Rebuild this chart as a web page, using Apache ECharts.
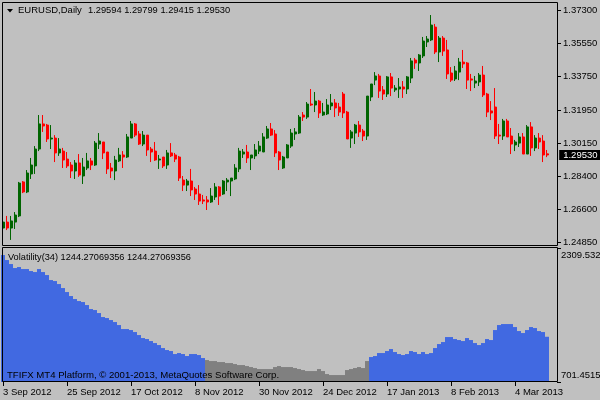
<!DOCTYPE html>
<html>
<head>
<meta charset="utf-8">
<title>EURUSD,Daily</title>
<style>
  html, body { margin: 0; padding: 0; background: #c0c0c0; }
  #chart { width: 600px; height: 400px; }
</style>
<script src="https://cdn.jsdelivr.net/npm/echarts@6/dist/echarts.min.js"></script>
</head>
<body>
<div id="chart"></div>
<script>
// price pane
var opens = [
  1.2560, 1.2592, 1.2560, 1.2592, 1.2625, 1.2808, 1.2754, 1.2851, 1.2894, 1.2985,
  1.3120, 1.3114, 1.3039, 1.3044, 1.2964, 1.2974, 1.2931, 1.2899, 1.2867, 1.2910,
  1.2840, 1.2883, 1.2921, 1.2899, 1.3012, 1.3023, 1.2969, 1.2883, 1.2867, 1.2921,
  1.2953, 1.2942, 1.3044, 1.3120, 1.3066, 1.3012, 1.3060, 1.2985, 1.2974, 1.2926,
  1.2942, 1.2899, 1.2964, 1.2953, 1.2942, 1.2818, 1.2791, 1.2813, 1.2770, 1.2743,
  1.2711, 1.2711, 1.2700, 1.2727, 1.2781, 1.2743, 1.2808, 1.2813, 1.2824, 1.2878,
  1.2958, 1.2969, 1.2937, 1.2948, 1.2974, 1.2969, 1.3044, 1.3093, 1.3066, 1.2969,
  1.2883, 1.2937, 1.3001, 1.3066, 1.3071, 1.3168, 1.3157, 1.3227, 1.3222, 1.3243,
  1.3168, 1.3174, 1.3217, 1.3233, 1.3211, 1.3281, 1.3184, 1.3044, 1.3071, 1.3114,
  1.3082, 1.3055, 1.3265, 1.3356, 1.3378, 1.3303, 1.3281, 1.3373, 1.3303, 1.3308,
  1.3319, 1.3308, 1.3367, 1.3464, 1.3448, 1.3486, 1.3561, 1.3572, 1.3641, 1.3507,
  1.3582, 1.3518, 1.3394, 1.3362, 1.3399, 1.3453, 1.3448, 1.3362, 1.3340, 1.3346,
  1.3383, 1.3281, 1.3190, 1.3211, 1.3060, 1.3055, 1.3136, 1.3055, 1.3007, 1.3017,
  1.3050, 1.2958, 1.3104, 1.2991, 1.3044, 1.3028, 1.2959
];
var closes = [
  1.2592, 1.2560, 1.2598, 1.2630, 1.2802, 1.2754, 1.2856, 1.2899, 1.2985, 1.3120,
  1.3109, 1.3039, 1.3044, 1.2964, 1.2985, 1.2926, 1.2894, 1.2867, 1.2910, 1.2845,
  1.2888, 1.2921, 1.2899, 1.3017, 1.3028, 1.2964, 1.2878, 1.2867, 1.2926, 1.2953,
  1.2942, 1.3050, 1.3120, 1.3060, 1.3012, 1.3060, 1.2980, 1.2969, 1.2926, 1.2931,
  1.2894, 1.2964, 1.2948, 1.2931, 1.2829, 1.2791, 1.2813, 1.2765, 1.2743, 1.2705,
  1.2705, 1.2700, 1.2732, 1.2781, 1.2732, 1.2813, 1.2818, 1.2829, 1.2883, 1.2974,
  1.2969, 1.2937, 1.2953, 1.2980, 1.3001, 1.3050, 1.3093, 1.3060, 1.2964, 1.2926,
  1.2942, 1.3007, 1.3071, 1.3077, 1.3157, 1.3157, 1.3227, 1.3222, 1.3243, 1.3179,
  1.3184, 1.3222, 1.3233, 1.3206, 1.3184, 1.3179, 1.3039, 1.3077, 1.3114, 1.3077,
  1.3055, 1.3270, 1.3335, 1.3378, 1.3297, 1.3281, 1.3373, 1.3313, 1.3313, 1.3319,
  1.3308, 1.3373, 1.3459, 1.3448, 1.3491, 1.3566, 1.3577, 1.3652, 1.3507, 1.3582,
  1.3512, 1.3389, 1.3356, 1.3405, 1.3453, 1.3443, 1.3356, 1.3356, 1.3351, 1.3383,
  1.3276, 1.3184, 1.3179, 1.3055, 1.3055, 1.3136, 1.3050, 1.3012, 1.3023, 1.3050,
  1.2958, 1.3104, 1.2991, 1.3044, 1.3023, 1.2953, 1.2953
];
var lows = [
  1.2555, 1.2549, 1.2496, 1.2555, 1.2619, 1.2748, 1.2748, 1.2824, 1.2851, 1.2974,
  1.3077, 1.3023, 1.2985, 1.2915, 1.2948, 1.2883, 1.2883, 1.2829, 1.2824, 1.2835,
  1.2797, 1.2872, 1.2872, 1.2894, 1.2985, 1.2931, 1.2851, 1.2829, 1.2818, 1.2915,
  1.2883, 1.2937, 1.3044, 1.3050, 1.3007, 1.3001, 1.2948, 1.2915, 1.2921, 1.2878,
  1.2883, 1.2878, 1.2942, 1.2915, 1.2813, 1.2759, 1.2759, 1.2732, 1.2711, 1.2684,
  1.2689, 1.2657, 1.2695, 1.2711, 1.2684, 1.2738, 1.2759, 1.2732, 1.2818, 1.2861,
  1.2937, 1.2910, 1.2872, 1.2931, 1.2958, 1.2969, 1.3039, 1.3055, 1.2942, 1.2872,
  1.2878, 1.2937, 1.2991, 1.3034, 1.3066, 1.3136, 1.3147, 1.3217, 1.3184, 1.3152,
  1.3163, 1.3168, 1.3195, 1.3157, 1.3163, 1.3152, 1.3039, 1.2991, 1.3012, 1.3050,
  1.3028, 1.3034, 1.3243, 1.3329, 1.3260, 1.3249, 1.3265, 1.3270, 1.3292, 1.3260,
  1.3260, 1.3281, 1.3340, 1.3416, 1.3405, 1.3475, 1.3534, 1.3566, 1.3496, 1.3453,
  1.3486, 1.3362, 1.3346, 1.3351, 1.3356, 1.3421, 1.3308, 1.3297, 1.3313, 1.3324,
  1.3265, 1.3157, 1.3141, 1.3039, 1.3012, 1.3034, 1.3050, 1.2958, 1.2974, 1.2996,
  1.2958, 1.2958, 1.2948, 1.2974, 1.2985, 1.2915, 1.29415
];
var highs = [
  1.2609, 1.2625, 1.2625, 1.2646, 1.2808, 1.2813, 1.2872, 1.2937, 1.3001, 1.3168,
  1.3168, 1.3120, 1.3114, 1.3060, 1.3044, 1.2991, 1.2969, 1.2915, 1.2926, 1.2958,
  1.2937, 1.2964, 1.2937, 1.3028, 1.3071, 1.3023, 1.2969, 1.2910, 1.2948, 1.2991,
  1.2974, 1.3066, 1.3136, 1.3125, 1.3082, 1.3082, 1.3060, 1.2996, 1.3023, 1.2953,
  1.2942, 1.2980, 1.3017, 1.2964, 1.2948, 1.2840, 1.2824, 1.2878, 1.2781, 1.2791,
  1.2738, 1.2732, 1.2775, 1.2802, 1.2786, 1.2818, 1.2829, 1.2829, 1.2904, 1.2991,
  1.2985, 1.3007, 1.2953, 1.3012, 1.3028, 1.3071, 1.3109, 1.3125, 1.3087, 1.2974,
  1.2948, 1.3012, 1.3093, 1.3098, 1.3168, 1.3184, 1.3238, 1.3308, 1.3292, 1.3249,
  1.3233, 1.3254, 1.3281, 1.3254, 1.3233, 1.3292, 1.3190, 1.3087, 1.3120, 1.3136,
  1.3093, 1.3270, 1.3335, 1.3399, 1.3389, 1.3324, 1.3378, 1.3394, 1.3329, 1.3367,
  1.3351, 1.3378, 1.3475, 1.3475, 1.3496, 1.3588, 1.3593, 1.3706, 1.3658, 1.3593,
  1.3593, 1.3572, 1.3426, 1.3432, 1.3475, 1.3518, 1.3453, 1.3389, 1.3378, 1.3394,
  1.3432, 1.3287, 1.3243, 1.3313, 1.3120, 1.3147, 1.3147, 1.3098, 1.3034, 1.3071,
  1.3071, 1.3114, 1.3130, 1.3060, 1.3071, 1.3060, 1.29799
];
// volatility pane, grey bars run from flatFrom to flatTo
var volatility = [
  2225, 2165, 2117, 2069, 2081, 2057, 2057, 2033, 2021, 2057,
  2021, 1985, 1925, 1913, 1877, 1829, 1781, 1733, 1697, 1673,
  1661, 1625, 1577, 1565, 1529, 1481, 1469, 1445, 1421, 1385,
  1337, 1337, 1325, 1301, 1265, 1229, 1217, 1193, 1169, 1145,
  1109, 1085, 1073, 1037, 1049, 1037, 1013, 1037, 1037, 1025,
  989, 965, 953, 953, 941, 941, 929, 929, 917, 905,
  905, 893, 881, 869, 857, 857, 857, 857, 881, 893,
  881, 881, 881, 869, 857, 845, 833, 833, 833, 857,
  833, 797, 785, 785, 785, 785, 845, 857, 869, 881,
  869, 953, 1001, 1013, 1049, 1049, 1073, 1097, 1061, 1037,
  1025, 1037, 1073, 1061, 1037, 1061, 1037, 1049, 1109, 1157,
  1181, 1241, 1241, 1217, 1205, 1193, 1229, 1205, 1169, 1145,
  1169, 1217, 1205, 1325, 1385, 1397, 1397, 1397, 1361, 1313,
  1289, 1325, 1361, 1349, 1313, 1301, 1244.27
];
var flatFrom = 51;
var flatTo = 91;

var dateLabels = ['3 Sep 2012', '25 Sep 2012', '17 Oct 2012', '8 Nov 2012', '30 Nov 2012', '24 Dec 2012', '17 Jan 2013', '8 Feb 2013', '4 Mar 2013'];
var priceTicks = [1.37300, 1.35550, 1.33750, 1.31950, 1.30150, 1.28400, 1.26600, 1.24850];
var lastPrice = 1.29530;
var volTicks = [701.4515, 2309.532];

var labelEvery = 16;
var slots = 138; // empty room on the right of the chart
var dateTicks = dateLabels.map(function (d, i) { return i * labelEvery; });

var candles = opens.map(function (o, i) {
    return [i, o, closes[i], lows[i], highs[i]];
});
var volBars = volatility.map(function (v, i) {
    return {
        value: [i, v],
        itemStyle: { color: i >= flatFrom && i <= flatTo ? '#808080' : '#4169e1' }
    };
});

var font = 'Liberation Sans';
var fontSize = 9.5;
function titleText(text, left, top, size) {
    return {
        text: text, left: left, top: top, padding: 0,
        textStyle: { fontFamily: font, fontSize: size, fontWeight: 'normal', color: '#000', lineHeight: 12 }
    };
}

var myChart = echarts.init(document.getElementById('chart'));
var option = {
    animation: false,
    backgroundColor: '#c0c0c0',
    title: [
        titleText('EURUSD,Daily', 18, 4, 9.5),
        titleText('1.29594 1.29799 1.29415 1.29530', 88, 4, 9.3),
        titleText('Volatility(34) 1244.27069356 1244.27069356', 8, 251, 9.2),
        titleText('TFIFX MT4 Platform, © 2001-2013, MetaQuotes Software Corp.', 7, 369, 9.6)
    ],
    grid: [
        // the .2 keeps candle bodies 3px wide once echarts snaps them to pixels
        { left: 3.2, top: 3, width: 552, height: 242, outerBoundsMode: 'none' },
        { left: 3, top: 248, width: 552, height: 134, outerBoundsMode: 'none' }
    ],
    xAxis: [
        {
            type: 'value', gridIndex: 0, min: 0, max: slots,
            axisLine: { show: false }, axisTick: { show: false }, axisLabel: { show: false }, splitLine: { show: false }
        },
        {
            type: 'value', gridIndex: 1, min: 0, max: slots,
            axisLine: { show: false },
            axisTick: { length: 4, customValues: dateTicks, lineStyle: { color: '#000' } },
            axisLabel: {
                customValues: dateTicks, align: 'left', margin: 5,
                fontFamily: font, fontSize: fontSize, color: '#000',
                formatter: function (v) { return dateLabels[v / labelEvery]; }
            },
            splitLine: { show: false }
        }
    ],
    yAxis: [
        {
            type: 'value', gridIndex: 0, position: 'right', offset: 1.8,
            min: 1.24687, max: 1.37707,
            axisLine: { show: false, onZero: false },
            axisTick: { show: true, length: 4, customValues: priceTicks, lineStyle: { color: '#000' } },
            axisLabel: {
                margin: 6, customValues: priceTicks, fontFamily: font, fontSize: fontSize, color: '#000',
                formatter: function (v) { return v.toFixed(5); }
            },
            splitLine: { show: false }
        },
        {
            type: 'value', gridIndex: 1, position: 'right', offset: 2,
            min: volTicks[0], max: volTicks[1],
            axisLine: { show: false, onZero: false },
            axisTick: { show: true, length: 4, customValues: volTicks, lineStyle: { color: '#000' } },
            axisLabel: {
                margin: 4, customValues: volTicks, fontFamily: font, fontSize: fontSize, color: '#000',
                lineHeight: 14,
                verticalAlignMinLabel: 'bottom', verticalAlignMaxLabel: 'top',
                formatter: function (v) { return String(v); }
            },
            splitLine: { show: false }
        }
    ],
    series: [
        {
            type: 'candlestick', xAxisIndex: 0, yAxisIndex: 0, data: candles, barWidth: 2.4,
            itemStyle: { color: '#006400', color0: '#ff0000', borderColor: '#006400', borderColor0: '#ff0000', borderWidth: 1 },
            markLine: {
                silent: true, symbol: 'none', precision: 5,
                lineStyle: { color: 'rgba(0,0,0,0)' },
                data: [{ yAxis: lastPrice }],
                label: {
                    position: 'end', distance: 4, fontFamily: font, fontSize: fontSize,
                    color: '#fff', backgroundColor: '#000', padding: [0, 5, 0, 4],
                    formatter: function () { return lastPrice.toFixed(5); }
                }
            }
        },
        {
            type: 'bar', xAxisIndex: 1, yAxisIndex: 1, data: volBars, barWidth: 4
        }
    ],
    graphic: [
        // pane frames and the small menu arrow
        { type: 'rect', silent: true, z: 50, shape: { x: 2.5, y: 2.5, width: 555, height: 243 }, style: { fill: 'none', stroke: '#000', lineWidth: 1 } },
        { type: 'rect', silent: true, z: 50, shape: { x: 2.5, y: 247.5, width: 555, height: 134 }, style: { fill: 'none', stroke: '#000', lineWidth: 1 } },
        { type: 'polygon', silent: true, z: 50, shape: { points: [[7, 9], [13, 9], [10, 12.5]] }, style: { fill: '#000' } }
    ]
};
myChart.setOption(option);
</script>
</body>
</html>
